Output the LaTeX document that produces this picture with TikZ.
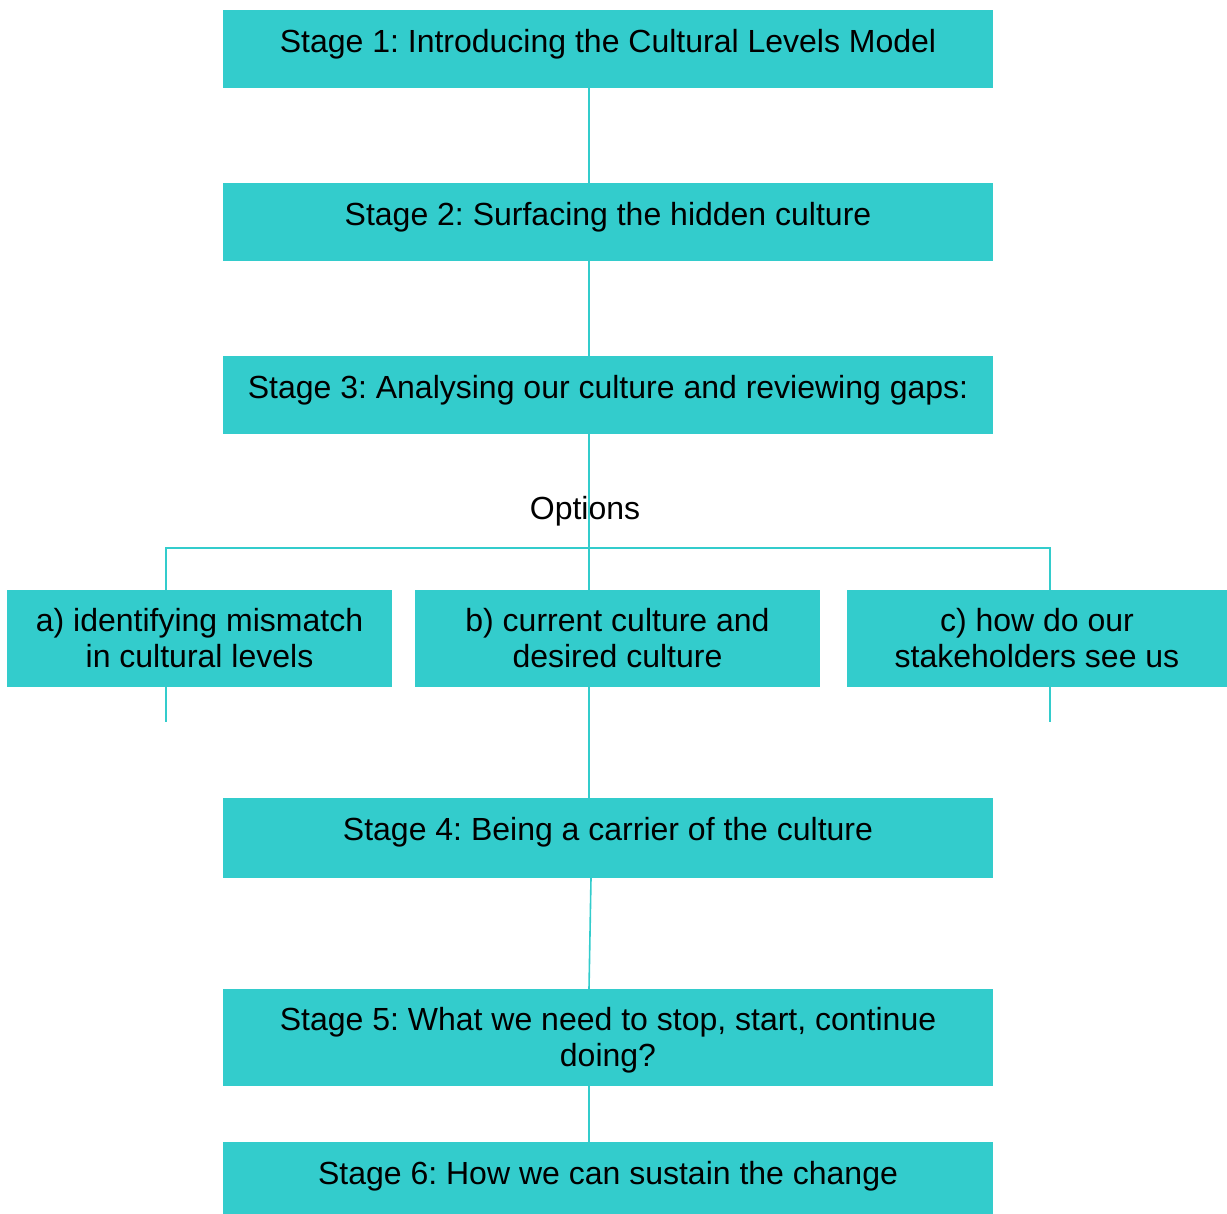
\documentclass[tikz,border=0pt]{standalone}
\usepackage{fontspec}
\setmainfont{Liberation Sans}
\usepackage{tikz}
\definecolor{turq}{RGB}{51,204,204}
\tikzset{
 box/.style={rectangle,fill=turq,inner sep=0pt,font=\fontsize{32}{36}\selectfont},
 stagebox/.style={box,minimum width=770pt,minimum height=78pt,text height=42.5pt,text depth=35.5pt},
 optbox/.style={box,minimum height=97pt,align=center},
 link/.style={draw=turq,line width=1.6pt}
}
\frenchspacing
\begin{document}
\begin{tikzpicture}[x=1pt,y=-1pt]
\useasboundingbox (0,0) rectangle (1227,1214);
\node [stagebox] (s1) at (608,49) {Stage 1: Introducing the Cultural Levels Model};
\node [stagebox] (s2) at (608,222) {Stage 2: Surfacing the hidden culture};
\node [stagebox] (s3) at (608,395) {Stage 3: Analysing our culture and reviewing gaps:};
\node [optbox,minimum width=385pt] (a) at (199.5,638.5) {a) identifying mismatch\\in cultural levels};
\node [optbox,minimum width=405pt] (b) at (617.5,638.5) {b) current culture and\\desired culture};
\node [optbox,minimum width=380pt] (c) at (1037,638.5) {c) how do our\\stakeholders see us};
\node [stagebox,minimum height=80pt,text depth=37.5pt] (s4) at (608,838) {Stage 4: Being a carrier of the culture};
\node [optbox,minimum width=770pt,text height=65.5pt] (s5) at (608,1037.5) {Stage 5: What we need to stop, start, continue\\doing?};
\node [stagebox] (s6) at (608,1181) {Stage 6: How we can sustain the change};
\node [font=\fontsize{32}{36}\selectfont,inner sep=0pt] (opt) at (585,511) {Options};
\coordinate (trunk) at (589,0);
\coordinate (la) at (166,548);
\coordinate (lc) at (1050,548);
\coordinate (ea) at (166,722);
\coordinate (ec) at (1050,722);
\draw [link] (s1.south -| trunk) -- (s2.north -| trunk);
\draw [link] (s2.south -| trunk) -- (s3.north -| trunk);
\draw [link] (s3.south -| trunk) -- (b.north -| trunk);
\draw [link] (a.north -| la) -- (la) -- (lc) -- (c.north -| lc);
\draw [link] (a.south -| ea) -- (ea);
\draw [link] (c.south -| ec) -- (ec);
\draw [link] (b.south -| trunk) -- (s4.north -| trunk);
\draw [link] ([xshift=2pt]s4.south -| trunk) -- (s5.north -| trunk);
\draw [link] (s5.south -| trunk) -- (s6.north -| trunk);
\end{tikzpicture}
\end{document}
